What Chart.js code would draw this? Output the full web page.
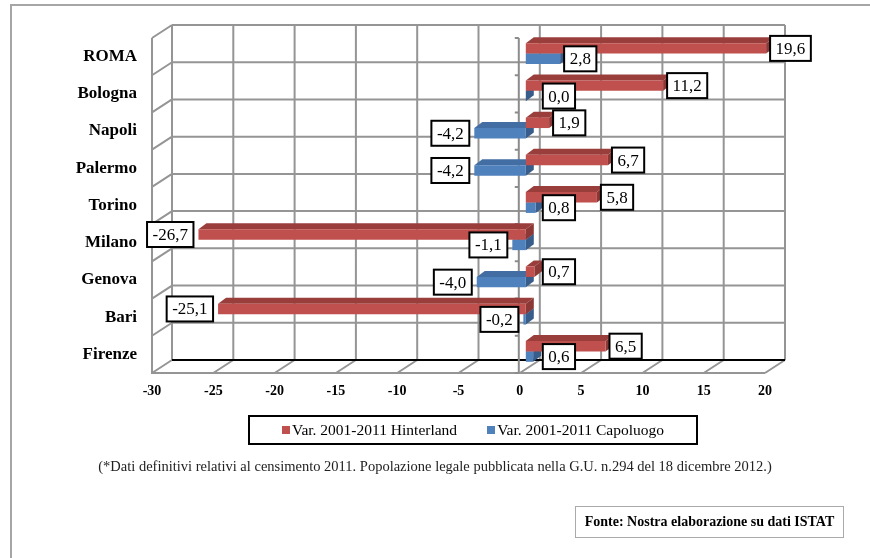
<!DOCTYPE html>
<html>
<head>
<meta charset="utf-8">
<script src="https://cdn.jsdelivr.net/npm/chart.js@4/dist/chart.umd.min.js"></script>
<style>
  body { margin: 0; background: #fff; }
  #wrap { position: relative; width: 870px; height: 558px; overflow: hidden; font-family: "Liberation Serif", serif; }
  #frame { position: absolute; left: 10px; top: 4px; width: 900px; height: 600px; border-left: 2px solid #a6a6a6; border-top: 2px solid #a6a6a6; }
  #chart { position: absolute; left: 0; top: 0; }
  #legend { position: absolute; left: 248px; top: 415px; width: 446px; height: 26px; border: 2px solid #000;
    display: flex; align-items: center; justify-content: center; gap: 30px; font-size: 15.5px; color: #000; }
  #legend span.sq { display: inline-block; width: 8px; height: 8px; margin-right: 2px; vertical-align: 1px; }
  #nota { position: absolute; left: 0; width: 870px; top: 458px; text-align: center; font-size: 14.5px; color: #222; }
  #fonte { position: absolute; left: 575px; top: 506px; width: 267px; height: 30px; border: 1.5px solid #aaa;
    font-weight: bold; font-size: 14px; line-height: 30px; text-align: center; color: #000; }
</style>
</head>
<body>
<div id="wrap">
  <div id="frame"></div>
  <canvas id="chart" width="870" height="558"></canvas>
  <div id="legend"></div>
  <div id="nota">(*Dati definitivi relativi al censimento 2011. Popolazione legale pubblicata nella G.U. n.294 del 18 dicembre 2012.)</div>
  <div id="fonte">Fonte: Nostra elaborazione su dati ISTAT</div>
</div>
<script>
// dati
const categorie = ["ROMA", "Bologna", "Napoli", "Palermo", "Torino", "Milano", "Genova", "Bari", "Firenze"];
const hinterland = [19.6, 11.2, 1.9, 6.7, 5.8, -26.7, 0.7, -25.1, 6.5];
const capoluogo = [2.8, 0.0, -4.2, -4.2, 0.8, -1.1, -4.0, -0.2, 0.6];
const etichette = ["Var. 2001-2011 Hinterland", "Var. 2001-2011 Capoluogo"];
const tickMin = -30, tickMax = 20, tickStep = 5;

// colori (fronte, sopra, lato)
const rosso = ["#c0504d", "#9a3e3c", "#8c3836"];
const blu = ["#4f81bd", "#426ea3", "#385d8a"];

// prospettiva
const DX = 20, DY = -13;   // fronte -> parete di fondo
const BX = 6, BY = -3;     // piano delle barre
const PX = 8, PY = -6;     // spessore barre

function fmt(v) {
  return v.toFixed(1).replace(".", ",");
}

// pareti, pavimento e griglia
const pareti = {
  id: "pareti",
  beforeDatasetsDraw(chart) {
    const ctx = chart.ctx;
    const xs = chart.scales.x;
    const a = chart.chartArea;
    const xl = xs.getPixelForValue(tickMin), xr = xs.getPixelForValue(tickMax);
    const bordi = [];
    for (let i = 0; i <= categorie.length; i++) {
      bordi.push(a.top + (a.bottom - a.top) * i / categorie.length);
    }
    ctx.save();
    ctx.strokeStyle = "#959595";
    ctx.lineWidth = 2;
    ctx.beginPath();
    for (let v = tickMin; v <= tickMax; v += tickStep) {
      const x = xs.getPixelForValue(v);
      // verticali di fondo
      ctx.moveTo(x + DX, a.top + DY);
      ctx.lineTo(x + DX, a.bottom + DY);
      // pavimento
      ctx.moveTo(x, a.bottom);
      ctx.lineTo(x + DX, a.bottom + DY);
    }
    bordi.forEach(y => {
      ctx.moveTo(xl + DX, y + DY);
      ctx.lineTo(xr + DX, y + DY);
      ctx.moveTo(xl, y);
      ctx.lineTo(xl + DX, y + DY);
    });
    ctx.moveTo(xl, a.top);
    ctx.lineTo(xl, a.bottom);
    ctx.lineTo(xr, a.bottom);
    ctx.stroke();
    // bordo posteriore del pavimento
    ctx.strokeStyle = "#000";
    ctx.beginPath();
    ctx.moveTo(xl + DX, a.bottom + DY);
    ctx.lineTo(xr + DX, a.bottom + DY);
    ctx.stroke();
    // asse delle categorie sullo zero
    const x0 = xs.getPixelForValue(0) - 1;
    ctx.strokeStyle = "#8c8c8c";
    ctx.beginPath();
    ctx.moveTo(x0, a.top);
    ctx.lineTo(x0, a.bottom);
    bordi.forEach(y => {
      ctx.moveTo(x0 - 4, y);
      ctx.lineTo(x0, y);
    });
    ctx.stroke();
    ctx.restore();
    // le barre stanno un po' più indietro
    ctx.save();
    ctx.translate(BX, BY);
  },
  beforeDatasetDraw(chart, args) {
    const ctx = chart.ctx;
    const col = args.index === 0 ? rosso : blu;
    args.meta.data.forEach(el => {
      const x0 = Math.min(el.x, el.base), x1 = Math.max(el.x, el.base);
      const yt = el.y - el.height / 2, yb = el.y + el.height / 2;
      ctx.fillStyle = col[1];
      ctx.beginPath();
      ctx.moveTo(x0, yt);
      ctx.lineTo(x1, yt);
      ctx.lineTo(x1 + PX, yt + PY);
      ctx.lineTo(x0 + PX, yt + PY);
      ctx.closePath();
      ctx.fill();
      ctx.fillStyle = col[2];
      ctx.beginPath();
      ctx.moveTo(x1, yt);
      ctx.lineTo(x1, yb);
      ctx.lineTo(x1 + PX, yb + PY);
      ctx.lineTo(x1 + PX, yt + PY);
      ctx.closePath();
      ctx.fill();
    });
  },
  afterDatasetsDraw(chart) {
    const ctx = chart.ctx;
    ctx.restore();
    // etichette dei valori
    ctx.save();
    ctx.font = "17px 'Liberation Serif'";
    ctx.textBaseline = "middle";
    ctx.textAlign = "center";
    chart.data.datasets.forEach((ds, di) => {
      chart.getDatasetMeta(di).data.forEach((el, i) => {
        const v = ds.data[i];
        const t = fmt(v);
        const w = ctx.measureText(t).width + 11;
        const h = 25;
        const xe = el.x + BX, x0 = el.base + BX;
        let left;
        if (v >= 0) left = Math.max(xe + 4, x0 + 17);
        else left = xe - 5 - w;
        const top = el.y + BY - h / 2;
        ctx.fillStyle = "#fff";
        ctx.fillRect(left, top, w, h);
        ctx.strokeStyle = "#000";
        ctx.lineWidth = 2;
        ctx.strokeRect(left, top, w, h);
        ctx.fillStyle = "#000";
        ctx.fillText(t, left + w / 2, top + h / 2 + 1);
      });
    });
    ctx.restore();
  }
};

const ctx = document.getElementById("chart").getContext("2d");
new Chart(ctx, {
  type: "bar",
  data: {
    labels: categorie,
    datasets: [
      { label: etichette[0], data: hinterland, backgroundColor: rosso[0], clip: false },
      { label: etichette[1], data: capoluogo, backgroundColor: blu[0], clip: false }
    ]
  },
  options: {
    indexAxis: "y",
    responsive: false,
    animation: false,
    devicePixelRatio: 1,
    barPercentage: 1,
    categoryPercentage: 0.56,
    layout: { padding: { left: 0, top: 38, right: 105, bottom: 155 } },
    plugins: { legend: { display: false }, tooltip: { enabled: false } },
    scales: {
      x: {
        min: tickMin, max: tickMax,
        grid: { display: false, drawTicks: false },
        border: { display: false },
        ticks: { stepSize: tickStep, padding: 10, color: "#000", font: { family: "Liberation Serif", size: 14, weight: "bold" } },
        afterFit: s => { s.height = 30; }
      },
      y: {
        grid: { display: false, drawTicks: false },
        border: { display: false },
        ticks: { padding: 15, color: "#000", font: { family: "Liberation Serif", size: 17, weight: "bold" } },
        afterFit: s => { s.width = 152; }
      }
    }
  },
  plugins: [pareti]
});

// legenda
const leg = document.getElementById("legend");
[[etichette[0], rosso[0]], [etichette[1], blu[0]]].forEach(([t, c]) => {
  const d = document.createElement("div");
  d.innerHTML = `<span class="sq" style="background:${c}"></span>${t}`;
  leg.appendChild(d);
});
</script>
</body>
</html>
